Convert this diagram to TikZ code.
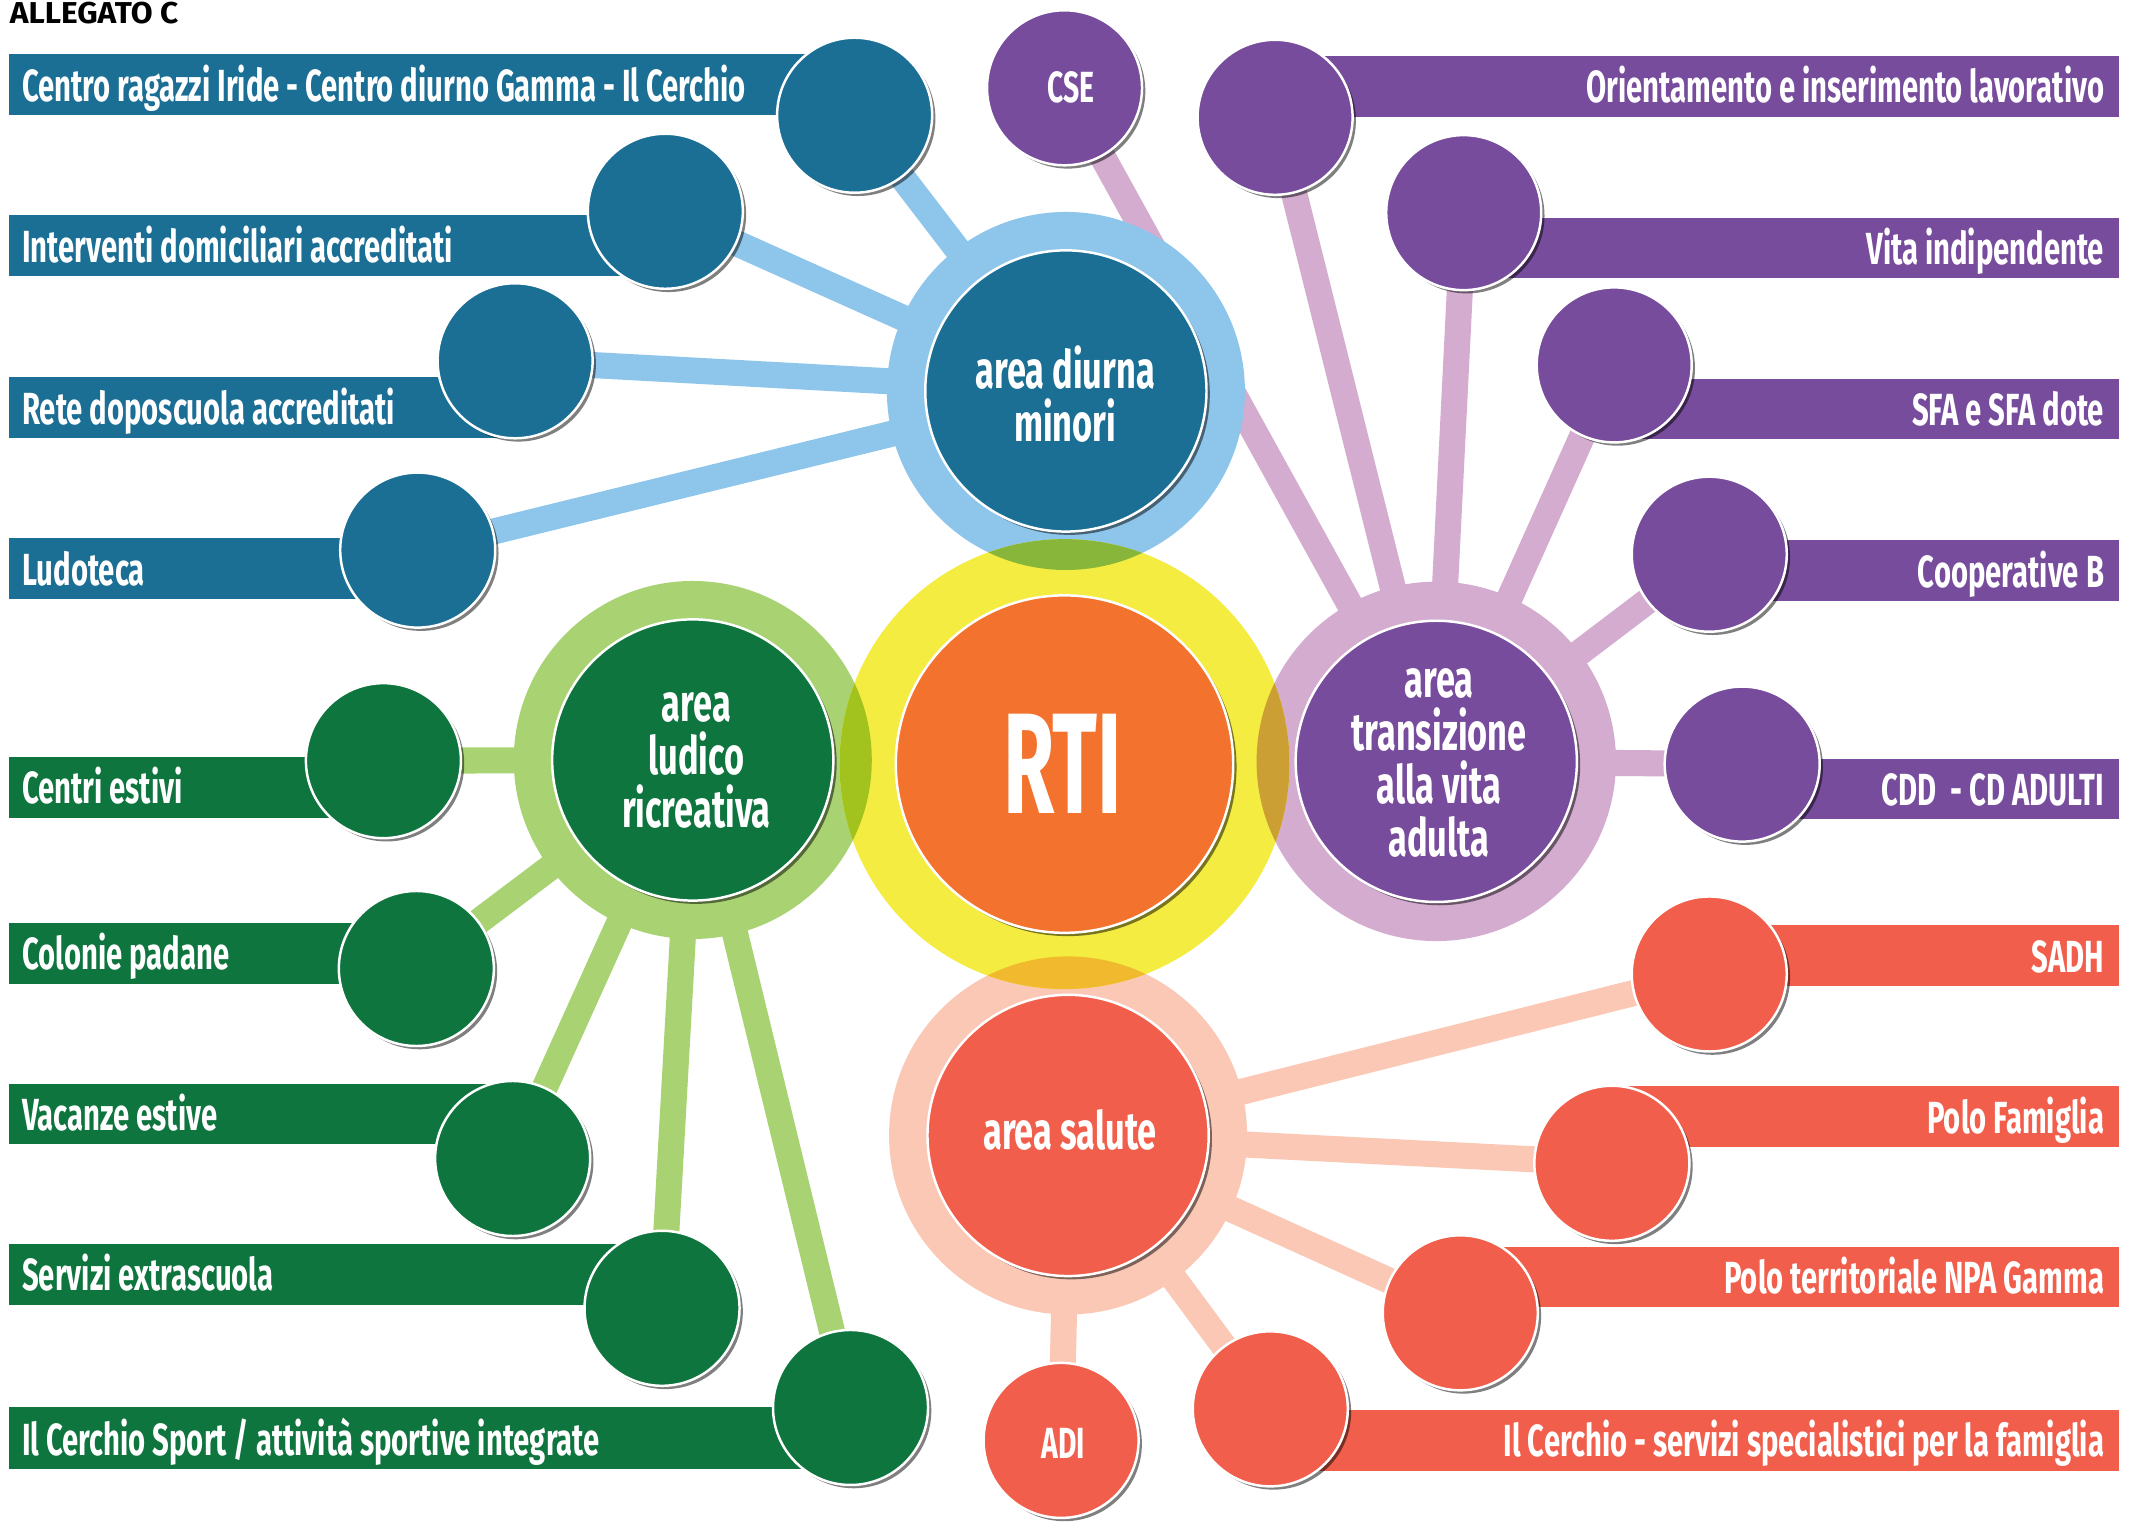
\documentclass[tikz,border=0pt]{standalone}
\usepackage{fontspec}
\newfontfamily\barfont{Fira Sans}[FakeStretch=0.65]
\newfontfamily\rtifont{Fira Sans}[FakeStretch=0.58]
\newfontfamily\titlefont{Fira Sans}[FakeStretch=1.05]
\usetikzlibrary{shadows}
\definecolor{cDBlue}{HTML}{1B6F95}
\definecolor{cLBlue}{HTML}{8DC5EB}
\definecolor{cPurple}{HTML}{774C9C}
\definecolor{cLPurple}{HTML}{D4ACD0}
\definecolor{cDGreen}{HTML}{0F753E}
\definecolor{cLGreen}{HTML}{A9D372}
\definecolor{cRed}{HTML}{F15E4B}
\definecolor{cPink}{HTML}{FBC8B6}
\definecolor{cOrange}{HTML}{F3722D}
\definecolor{cYellow}{HTML}{F4EC40}
\definecolor{ovBlue}{HTML}{87B63B}
\definecolor{ovGreen}{HTML}{A2C31D}
\definecolor{ovPurple}{HTML}{CB9F34}
\definecolor{ovPink}{HTML}{F0B92E}
\pgfdeclarelayer{bglayer}
\pgfdeclarelayer{connlayer}
\pgfsetlayers{bglayer,connlayer,main}
\begin{document}
\begin{tikzpicture}[x=1pt,y=-1pt,
  shadedrop/.style={drop shadow={shadow xshift=2.4pt,shadow yshift=-2.4pt,opacity=0.5,fill=black}},
  leaf/.style={circle,inner sep=0pt,minimum size=113pt,draw=white,line width=1.8pt,fill=#1,shadedrop},
  hub/.style={circle,inner sep=0pt,minimum size=205pt,draw=white,line width=1.8pt,fill=#1,shadedrop},
  conn/.style={draw=#1,line width=19pt},
  lbl/.style={text=white,inner sep=0pt,font=\barfont\bfseries\fontsize{32.8pt}{36pt}\selectfont},
  hubtxt/.style={text=white,inner sep=0pt,align=center,font=\barfont\bfseries\fontsize{38.5pt}{38.5pt}\selectfont},
  leaftxt/.style={text=white,inner sep=0pt,font=\barfont\bfseries\fontsize{31.8pt}{34pt}\selectfont},
]
\useasboundingbox (0,0) rectangle (1560,1108.8);
\begin{pgfonlayer}{bglayer}
  \fill[white] (0,0) rectangle (1560,1108.8);
\end{pgfonlayer}

% rings
\fill[cLBlue] (777,285) circle[radius=130.5pt];
\fill[cLGreen] (505,554) circle[radius=130.5pt];
\fill[cLPurple] (1047,555) circle[radius=131pt];
\fill[cPink] (778.6,827.7) circle[radius=130.5pt];
% halo
\fill[cYellow] (776,557) circle[radius=164pt];
\begin{scope}
  \clip (776,557) circle[radius=164pt];
  \fill[ovBlue] (777,285) circle[radius=130.5pt];
  \fill[ovGreen] (505,554) circle[radius=130.5pt];
  \fill[ovPurple] (1047,555) circle[radius=131pt];
  \fill[ovPink] (778.6,827.7) circle[radius=130.5pt];
\end{scope}

% hubs
\node[hub=cDBlue] (hb) at (777,285) {};
\node[hub=cDGreen] (hg) at (505,554) {};
\node[hub=cPurple] (hp) at (1047,555) {};
\node[hub=cRed] (hr) at (778.6,827.7) {};
\node[circle,inner sep=0pt,minimum size=246pt,draw=white,line width=1.8pt,fill=cOrange,shadedrop] (rti) at (776,557) {};

% bars
\fill[cDBlue] (6.7,39.4) rectangle (623,83.8);
\fill[cDBlue] (6.7,157) rectangle (485,201);
\fill[cDBlue] (6.7,275) rectangle (375,319);
\fill[cDBlue] (6.7,392) rectangle (304,437);
\fill[cDGreen] (6.7,552) rectangle (279,596);
\fill[cDGreen] (6.7,673) rectangle (303,717);
\fill[cDGreen] (6.7,790) rectangle (373,834);
\fill[cDGreen] (6.7,907) rectangle (482,951);
\fill[cDGreen] (6.7,1026) rectangle (620,1071);
\fill[cPurple] (929.5,41) rectangle (1545,85);
\fill[cPurple] (1067,159) rectangle (1545,203);
\fill[cPurple] (1176.7,276) rectangle (1545,320);
\fill[cPurple] (1246,394) rectangle (1545,438);
\fill[cPurple] (1270,553) rectangle (1545,597);
\fill[cRed] (1246,674) rectangle (1545,719);
\fill[cRed] (1175,792) rectangle (1545,836);
\fill[cRed] (1064.5,909) rectangle (1545,953);
\fill[cRed] (926,1028) rectangle (1545,1072);

% leaves
\node[leaf=cDBlue] (b1) at (623,84) {};
\node[leaf=cDBlue] (b2) at (485,154) {};
\node[leaf=cDBlue] (b3) at (375.5,263) {};
\node[leaf=cDBlue] (b4) at (304.5,401) {};
\node[leaf=cDGreen] (g1) at (279.5,554.5) {};
\node[leaf=cDGreen] (g2) at (303.5,706) {};
\node[leaf=cDGreen] (g3) at (373.7,844.5) {};
\node[leaf=cDGreen] (g4) at (482.6,953.7) {};
\node[leaf=cDGreen] (g5) at (620,1026) {};
\node[leaf=cPurple] (cse) at (776,64) {};
\node[leaf=cPurple] (p1) at (929.5,85.5) {};
\node[leaf=cPurple] (p2) at (1067,155) {};
\node[leaf=cPurple] (p3) at (1176.7,266) {};
\node[leaf=cPurple] (p4) at (1246,404) {};
\node[leaf=cPurple] (p5) at (1270,557) {};
\node[leaf=cRed] (r1) at (1246,710) {};
\node[leaf=cRed] (r2) at (1175,848) {};
\node[leaf=cRed] (r3) at (1064.5,957) {};
\node[leaf=cRed] (r4) at (926,1027) {};
\node[leaf=cRed] (adi) at (773.5,1050) {};

% connectors
\begin{pgfonlayer}{connlayer}
  \foreach \n in {b1,b2,b3,b4} \draw[conn=cLBlue] (\n.center) -- (hb.center);
  \foreach \n in {g1,g2,g3,g4,g5} \draw[conn=cLGreen] (\n.center) -- (hg.center);
  \foreach \n in {cse,p1,p2,p3,p4,p5} \draw[conn=cLPurple] (\n.center) -- (hp.center);
  \foreach \n in {r1,r2,r3,r4,adi} \draw[conn=cPink] (\n.center) -- (hr.center);
\end{pgfonlayer}

% texts
\node[anchor=base west,inner sep=0pt,font=\titlefont\bfseries\fontsize{22pt}{24pt}\selectfont] (title) at (7,17.3) {ALLEGATO C};

\node[lbl,anchor=base west] (tb1) at (16,74.1) {Centro ragazzi Iride - Centro diurno Gamma - Il Cerchio};
\node[lbl,anchor=base west] (tb2) at (16,191.3) {Interventi domiciliari accreditati};
\node[lbl,anchor=base west] (tb3) at (16,309.3) {Rete doposcuola accreditati};
\node[lbl,anchor=base west] (tb4) at (16,427) {Ludoteca};
\node[lbl,anchor=base west] (tg1) at (16,586) {Centri estivi};
\node[lbl,anchor=base west] (tg2) at (16,707) {Colonie padane};
\node[lbl,anchor=base west] (tg3) at (16,824) {Vacanze estive};
\node[lbl,anchor=base west] (tg4) at (16,941) {Servizi extrascuola};
\node[lbl,anchor=base west] (tg5) at (16,1061) {Il Cerchio Sport / attività sportive integrate};
\node[lbl,anchor=base east] (tp1) at (1534,75) {Orientamento e inserimento lavorativo};
\node[lbl,anchor=base east] (tp2) at (1534,193) {Vita indipendente};
\node[lbl,anchor=base east] (tp3) at (1534,310) {SFA e SFA dote};
\node[lbl,anchor=base east] (tp4) at (1534,428) {Cooperative B};
\node[lbl,anchor=base east] (tp5) at (1534,587) {CDD\ \ - CD ADULTI};
\node[lbl,anchor=base east] (tr1) at (1534,709) {SADH};
\node[lbl,anchor=base east] (tr2) at (1534,826) {Polo Famiglia};
\node[lbl,anchor=base east] (tr3) at (1534,943) {Polo territoriale NPA Gamma};
\node[lbl,anchor=base east] (tr4) at (1534,1062) {Il Cerchio - servizi specialistici per la famiglia};

\node[leaftxt,anchor=base] (tcse) at (780.5,75) {CSE};
\node[leaftxt,anchor=base] (tadi) at (775,1063) {ADI};

\node[hubtxt,anchor=north] (thb) at (776.5,251.7) {\rule{0pt}{29pt}area diurna\\minori};
\node[hubtxt,anchor=north] (thg) at (507.6,497) {\rule{0pt}{29pt}area\\ludico\\ricreativa};
\node[hubtxt,anchor=north] (thp) at (1049,479.3) {\rule{0pt}{29pt}area\\transizione\\alla vita\\adulta};
\node[hubtxt,anchor=base] (thr) at (780,838) {area salute};
\node[anchor=base,inner sep=0pt,text=white,font=\rtifont\bfseries\fontsize{104.5pt}{110pt}\selectfont] (trti) at (774.7,592.8) {RTI};
\end{tikzpicture}
\end{document}
